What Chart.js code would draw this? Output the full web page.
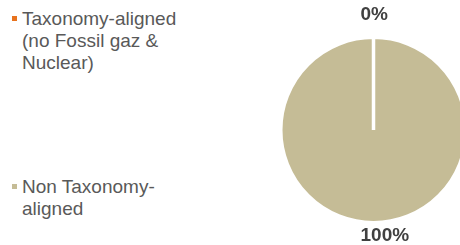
<!DOCTYPE html>
<html>
<head>
<meta charset="utf-8">
<script src="https://cdn.jsdelivr.net/npm/chart.js@4/dist/chart.umd.min.js"></script>
<style>
  html, body { margin: 0; padding: 0; background: #fff; width: 460px; height: 245px; overflow: hidden; }
  #legend { font-family: "Liberation Sans", Arial, sans-serif; font-size: 19px; line-height: 22px; color: #595959; }
  .item { position: absolute; left: 22px; width: 170px; }
  .item .sw { position: absolute; left: -10px; top: 8.5px; width: 5px; height: 5px; }
  #wrap { position: absolute; left: 260px; top: 0; width: 230px; height: 245px; }
</style>
</head>
<body>
<div id="legend"></div>
<div id="wrap"><canvas id="pie"></canvas></div>
<script>
// --- data ---
const labels = ['Taxonomy-aligned (no Fossil gaz & Nuclear)', 'Non Taxonomy-aligned'];
const shares = [0, 100];
const colors = ['#E8731E', '#C5BC96'];

// --- legend (html, left side) ---
const legendTops = [7.5, 175.5];
const legend = document.getElementById('legend');
labels.forEach((txt, i) => {
    const div = document.createElement('div');
    div.className = 'item';
    div.style.top = legendTops[i] + 'px';
    const sw = document.createElement('span');
    sw.className = 'sw';
    sw.style.background = colors[i];
    div.appendChild(sw);
    div.appendChild(document.createTextNode(txt));
    legend.appendChild(div);
});

// percent labels outside the pie
const pctLabels = {
    id: 'pctLabels',
    afterDatasetsDraw(chart, args, opts) {
        const ctx = chart.ctx;
        const meta = chart.getDatasetMeta(0);
        const total = shares.reduce((a, b) => a + b, 0);
        ctx.save();
        ctx.font = 'bold 19px "Liberation Sans", Arial, sans-serif';
        ctx.fillStyle = '#404040';
        ctx.textAlign = 'left';
        ctx.textBaseline = 'alphabetic';
        meta.data.forEach((arc, i) => {
            const p = arc.getProps(['x', 'y', 'startAngle', 'endAngle', 'outerRadius'], true);
            const mid = (p.startAngle + p.endAngle) / 2;
            const r = p.outerRadius - 1.75 + opts.gap;
            const txt = Math.round(shares[i] / total * 100) + '%';
            ctx.fillText(txt, p.x + opts.dx, p.y + Math.sin(mid) * r);
        });
        ctx.restore();
    }
};

new Chart(document.getElementById('pie'), {
    type: 'pie',
    data: {
        labels: labels,
        datasets: [{
            data: shares,
            backgroundColor: colors,
            borderColor: '#ffffff',
            borderWidth: 3.5,
            hoverOffset: 0
        }]
    },
    options: {
        responsive: true,
        maintainAspectRatio: false,
        animation: false,
        radius: 92.75,
        layout: { padding: { left: 0, right: 3, top: 15, bottom: 0 } },
        plugins: {
            legend: { display: false },
            tooltip: { enabled: false },
            pctLabels: { gap: 19.5, dx: -13 }
        }
    },
    plugins: [pctLabels]
});
</script>
</body>
</html>
